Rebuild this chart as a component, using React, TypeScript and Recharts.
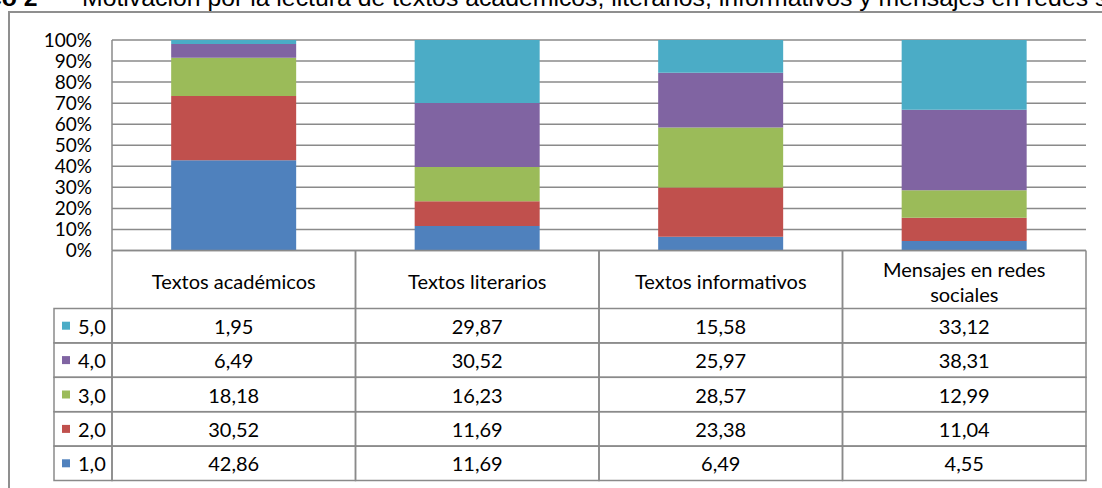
import React from 'react';
import { BarChart, Bar, XAxis, YAxis, CartesianGrid } from 'recharts';

const categories = ['Textos académicos', 'Textos literarios', 'Textos informativos', 'Mensajes en redes sociales'];
const seriesKeys = ['v1', 'v2', 'v3', 'v4', 'v5'];
const seriesNames = ['1,0', '2,0', '3,0', '4,0', '5,0'];
const seriesColors = ['#4F81BD', '#C0504D', '#9BBB59', '#8064A2', '#4BACC6'];
const values1 = [42.86, 11.69, 6.49, 4.55];
const values2 = [30.52, 11.69, 23.38, 11.04];
const values3 = [18.18, 16.23, 28.57, 12.99];
const values4 = [6.49, 30.52, 25.97, 38.31];
const values5 = [1.95, 29.87, 15.58, 33.12];
const yTicks = [0, 10, 20, 30, 40, 50, 60, 70, 80, 90, 100];
const titleBold = 'Gráfico 2';
const titleText = 'Motivación por la lectura de textos académicos, literarios, informativos y mensajes en redes sociales';

const allValues = [values1, values2, values3, values4, values5];
const data = categories.map((c, i) => ({
  cat: c,
  v1: values1[i],
  v2: values2[i],
  v3: values3[i],
  v4: values4[i],
  v5: values5[i],
}));

const W = 1102;
const H = 488;
const PLOT_LEFT = 112;
const PLOT_RIGHT = 1086;
const HEAD_H = 58;
const ROW_H = 34.4;
const LEGEND_LEFT = 54;
const LINE = '#8a8a8a';
const FONT = 'Lato, "Open Sans", sans-serif';
const FS = 20;

const fmt = (v: number) => v.toFixed(2).replace('.', ',');

// wrap long header labels onto two lines (last word on the second line)
const splitLabel = (label: string): string[] => {
  if (label.length <= 22) return [label];
  const words = label.split(' ');
  return [words.slice(0, -1).join(' '), words[words.length - 1]];
};

const HeaderTick = (props: any) => {
  const { x, y, payload } = props;
  const half = payload && payload.offset ? payload.offset : (PLOT_RIGHT - PLOT_LEFT) / categories.length / 2;
  const lines = splitLabel(String(payload.value));
  const mid = y + 30.5;
  const lh = 25;
  const start = mid - ((lines.length - 1) * lh) / 2;
  return (
    <g>
      <line x1={x - half} y1={y} x2={x - half} y2={y + HEAD_H} stroke={LINE} strokeWidth={1.5} />
      <line x1={x + half} y1={y} x2={x + half} y2={y + HEAD_H} stroke={LINE} strokeWidth={1.5} />
      {lines.map((ln, k) => (
        <text
          key={k}
          x={x}
          y={start + k * lh}
          textAnchor="middle"
          dominantBaseline="central"
          fill="#000"
          style={{ fontFamily: FONT, fontSize: FS }}
        >
          {ln}
        </text>
      ))}
    </g>
  );
};

const makeRowTick = (s: number) => (props: any) => {
  const { x, y, payload } = props;
  const half = payload && payload.offset ? payload.offset : (PLOT_RIGHT - PLOT_LEFT) / categories.length / 2;
  const i = categories.indexOf(payload.value);
  const v = allValues[s][i];
  const cy = y + ROW_H / 2;
  return (
    <g>
      <rect x={x - half} y={y} width={half * 2} height={ROW_H} fill="none" stroke={LINE} strokeWidth={1.5} />
      <text x={x} y={cy} textAnchor="middle" dominantBaseline="central" fill="#000" style={{ fontFamily: FONT, fontSize: FS }}>
        {fmt(v)}
      </text>
      {i === 0 && (
        <g>
          <rect x={LEGEND_LEFT} y={y} width={x - half - LEGEND_LEFT} height={ROW_H} fill="none" stroke={LINE} strokeWidth={1.5} />
          <rect x={LEGEND_LEFT + 8} y={cy - 4} width={8} height={8} fill={seriesColors[s]} />
          <text x={LEGEND_LEFT + 24} y={cy} textAnchor="start" dominantBaseline="central" fill="#000" style={{ fontFamily: FONT, fontSize: FS }}>
            {seriesNames[s]}
          </text>
        </g>
      )}
    </g>
  );
};

// table rows from top to bottom: 5,0 / 4,0 / 3,0 / 2,0 / 1,0
const rowOrder = [4, 3, 2, 1, 0];

export default function App() {
  return (
    <div style={{ position: 'absolute', left: 0, top: 0, width: W, height: H, overflow: 'hidden', background: '#fff' }}>
      <div
        style={{
          position: 'absolute',
          left: 8,
          top: 11,
          width: 1300,
          height: 700,
          border: '2px solid #8f8f8f',
          boxSizing: 'border-box',
        }}
      />
      <span
        style={{
          position: 'absolute',
          left: -70,
          top: -15,
          whiteSpace: 'nowrap',
          fontFamily: '"Liberation Sans", Arial, sans-serif',
          fontWeight: 'bold',
          fontSize: 24.8,
          lineHeight: '25px',
          color: '#000',
        }}
      >
        {titleBold}
      </span>
      <span
        style={{
          position: 'absolute',
          left: 82,
          top: -15,
          whiteSpace: 'nowrap',
          fontFamily: '"Liberation Sans", Arial, sans-serif',
          fontSize: 24.8,
          lineHeight: '25px',
          color: '#000',
        }}
      >
        {titleText}
      </span>
      <div style={{ position: 'absolute', left: 0, top: 0 }}>
        <BarChart
          width={W}
          height={H}
          data={data}
          stackOffset="expand"
          barCategoryGap="24.3%"
          margin={{ top: 40, right: W - PLOT_RIGHT, left: 0, bottom: 7.5 }}
        >
          <CartesianGrid vertical={false} stroke={LINE} strokeWidth={1.5} />
          <YAxis
            width={PLOT_LEFT}
            domain={[0, 1]}
            ticks={yTicks.map((t) => t / 100)}
            tickFormatter={(v: number) => `${Math.round(v * 100)}%`}
            tickLine={false}
            tickSize={0}
            tickMargin={20}
            axisLine={{ stroke: LINE, strokeWidth: 1.5 }}
            tick={{ fill: '#000', fontSize: 19, fontFamily: FONT }}
            interval={0}
          />
          <XAxis
            xAxisId={0}
            dataKey="cat"
            height={HEAD_H}
            interval={0}
            tickLine={false}
            tickSize={0}
            tickMargin={0}
            axisLine={{ stroke: LINE, strokeWidth: 1.5 }}
            tick={HeaderTick}
          />
          {rowOrder.map((s, k) => (
            <XAxis
              key={'r' + k}
              xAxisId={'r' + k}
              dataKey="cat"
              height={ROW_H}
              interval={0}
              tickLine={false}
              tickSize={0}
              tickMargin={0}
              axisLine={false}
              tick={makeRowTick(s)}
            />
          ))}
          {seriesKeys.map((k, idx) => (
            <Bar
              key={k}
              dataKey={k}
              name={seriesNames[idx]}
              stackId="a"
              fill={seriesColors[idx]}
              isAnimationActive={false}
            />
          ))}
        </BarChart>
      </div>
    </div>
  );
}
